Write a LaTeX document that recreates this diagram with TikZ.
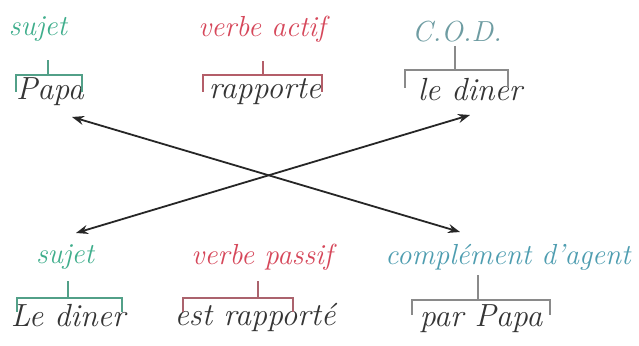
\documentclass[tikz,border=0pt]{standalone}
\usetikzlibrary{arrows.meta}
\definecolor{sgreen}{HTML}{3FAE8C}
\definecolor{vred}{HTML}{D6475A}
\definecolor{codgrey}{HTML}{6E9CA2}
\definecolor{cteal}{HTML}{4E9DB0}
\definecolor{ink}{HTML}{353535}
\definecolor{brgrey}{HTML}{8A8A8A}
\begin{document}
\begin{tikzpicture}[x=1pt,y=1pt,
  lab/.style={font=\fontsize{29}{32}\selectfont\itshape, inner sep=0pt},
  word/.style={font=\fontsize{32}{36}\selectfont\itshape, text=ink, inner sep=0pt},
  brk/.style={line width=1.4pt},
  conn/.style={line width=1.8pt, black!85, {Stealth[length=12pt,width=9pt]}-{Stealth[length=12pt,width=9pt]}}]
\useasboundingbox[fill=white] (0,0) rectangle (639,345);
% top row
\node[lab, text=sgreen] (l1) at (38,316) {sujet};
\node[word] (w1) at (50,253) {Papa};
\node[lab, text=vred] (l2) at (262,316) {verbe actif};
\node[word] (w2) at (265,253) {rapporte};
\node[lab, text=codgrey] (l3) at (457,313) {C.O.D.};
\node[word] (w3) at (470,255) {le diner};
% bottom row
\node[lab, text=sgreen] (l4) at (65,88) {sujet};
\node[word] (w4) at (68,29) {Le diner};
\node[lab, text=vred] (l5) at (262,88) {verbe passif};
\node[word] (w5) at (255,28) {est rapporté};
\node[lab, text=cteal] (l6) at (508,88) {complément d'agent};
\node[word] (w6) at (481,26) {par Papa};
% brackets
\draw[brk, sgreen!70!gray] (16,253) -- (16,270) -- (82,270) -- (82,253);
\draw[brk, sgreen!70!gray] (48,270) -- (48,285);
\draw[brk, vred!60!gray] (203,253) -- (203,270) -- (322,270) -- (322,253);
\draw[brk, vred!60!gray] (263,270) -- (263,284);
\draw[brk, brgrey] (405,257) -- (405,275) -- (508,275) -- (508,257);
\draw[brk, brgrey] (455,275) -- (455,299);
\draw[brk, sgreen!70!gray] (17,33) -- (17,47) -- (122,47) -- (122,33);
\draw[brk, sgreen!70!gray] (68,47) -- (68,64);
\draw[brk, vred!50!gray] (183,33) -- (183,47) -- (293,47) -- (293,33);
\draw[brk, vred!50!gray] (258,47) -- (258,64);
\draw[brk, brgrey] (412,30) -- (412,45) -- (550,45) -- (550,30);
\draw[brk, brgrey] (478,45) -- (478,70);
% connectors
\coordinate (a1) at (72,228);
\coordinate (a2) at (460,113);
\coordinate (b1) at (470,230);
\coordinate (b2) at (76,112);
\draw[conn] (a1) -- (a2);
\draw[conn] (b1) -- (b2);
\end{tikzpicture}
\end{document}
